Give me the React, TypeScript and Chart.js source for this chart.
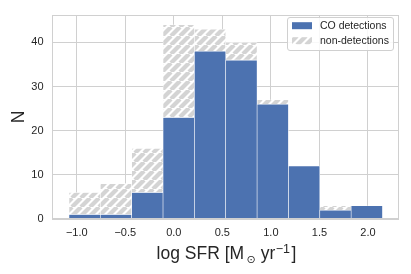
import React, { useEffect, useRef } from 'react';
import { Chart, registerables } from 'chart.js';

Chart.register(...registerables);

// Histogram bin edges (log SFR)
const binEdges = [-1.08, -0.757, -0.434, -0.111, 0.212, 0.535, 0.858, 1.181, 1.504, 1.827, 2.15];
// Counts per bin
const coDetections = [1, 1, 6, 23, 38, 36, 26, 12, 2, 3];
const nonDetections = [5, 7, 10, 21, 5, 4, 1, 0, 1, 0];
// Axis ticks
const xTicks = [-1.0, -0.5, 0.0, 0.5, 1.0, 1.5, 2.0];
const yTicks = [0, 10, 20, 30, 40];
const legendLabels = ['CO detections', 'non-detections'];

const SANS = '"Liberation Sans", Arial, sans-serif';
const TEXT = '#262626';
const GRID = '#d0d0d0';
const BLUE = '#4c72b0';

function makeHatch(): CanvasPattern | string {
  const S = 9;
  const c = document.createElement('canvas');
  c.width = S;
  c.height = S;
  const g = c.getContext('2d');
  if (!g) return '#d6d6d6';
  g.fillStyle = '#ffffff';
  g.fillRect(0, 0, S, S);
  g.strokeStyle = '#d4d4d4';
  g.lineWidth = 4.2;
  for (const x0 of [-S, 0, S]) {
    g.beginPath();
    g.moveTo(x0, S);
    g.lineTo(x0 + S, 0);
    g.stroke();
  }
  const p = g.createPattern(c, 'repeat');
  return p || '#d6d6d6';
}

export default function App() {
  const ref = useRef<HTMLCanvasElement | null>(null);

  useEffect(() => {
    if (!ref.current) return;
    const hatch = makeHatch();
    const centers = coDetections.map((_, i) => (binEdges[i] + binEdges[i + 1]) / 2);

    const decor = {
      id: 'decor',
      afterDatasetsDraw(chart: any) {
        const { ctx, chartArea: a } = chart;
        ctx.save();
        ctx.strokeStyle = GRID;
        ctx.lineWidth = 1;
        const l = Math.round(a.left) + 0.5;
        const t = Math.round(a.top) + 0.5;
        const r = Math.round(a.right) - 0.5;
        const b = Math.round(a.bottom) - 0.5;
        ctx.strokeRect(l, t, r - l, b - t);
        ctx.restore();
      },
      afterDraw(chart: any) {
        const { ctx, chartArea: a } = chart;
        ctx.save();
        // Legend
        const lx = 287.5, ly = 17.5, lw = 106, lh = 33;
        ctx.beginPath();
        (ctx as any).roundRect ? (ctx as any).roundRect(lx, ly, lw, lh, 2.5) : ctx.rect(lx, ly, lw, lh);
        ctx.fillStyle = 'rgba(255,255,255,0.85)';
        ctx.fill();
        ctx.strokeStyle = GRID;
        ctx.lineWidth = 1;
        ctx.stroke();
        const rows = [25.7, 40.7];
        ctx.fillStyle = BLUE;
        ctx.fillRect(292, rows[0] - 3.5, 20, 7);
        ctx.fillStyle = hatch as any;
        ctx.fillRect(292, rows[1] - 3.5, 20, 7);
        ctx.fillStyle = TEXT;
        ctx.font = `10.5px ${SANS}`;
        ctx.textAlign = 'left';
        ctx.textBaseline = 'middle';
        legendLabels.forEach((lab, i) => ctx.fillText(lab, 320, rows[i] + 0.5));

        // Y title
        ctx.save();
        ctx.translate(24, (a.top + a.bottom) / 2);
        ctx.rotate(-Math.PI / 2);
        ctx.font = `17.5px ${SANS}`;
        ctx.textAlign = 'center';
        ctx.textBaseline = 'alphabetic';
        ctx.fillText('N', 0, 0);
        ctx.restore();

        // X title with sub/superscript
        const parts = [
          { t: 'log SFR [M', size: 17.5, dy: 0, fam: SANS, pl: 0, pr: 0 },
          { t: '\u2299', size: 11, dy: 4, fam: '"DejaVu Sans", sans-serif', pl: 2.5, pr: 0 },
          { t: ' yr', size: 17.5, dy: 0, fam: SANS, pl: 0, pr: 0 },
          { t: '\u22121', size: 12.5, dy: -6.5, fam: SANS, pl: 0.5, pr: 0 },
          { t: ']', size: 17.5, dy: 0, fam: SANS, pl: 1.5, pr: 0 },
        ];
        let total = 0;
        const widths = parts.map((p) => {
          ctx.font = `${p.size}px ${p.fam}`;
          const w = ctx.measureText(p.t).width + p.pl + p.pr;
          total += w;
          return w;
        });
        let x = (a.left + a.right) / 2 - total / 2 + 1;
        const base = 259;
        ctx.textAlign = 'left';
        ctx.textBaseline = 'alphabetic';
        ctx.fillStyle = TEXT;
        parts.forEach((p, i) => {
          ctx.font = `${p.size}px ${p.fam}`;
          ctx.fillText(p.t, x + p.pl, base + p.dy);
          x += widths[i];
        });
        ctx.restore();
      },
    };

    const chart = new Chart(ref.current, {
      type: 'bar',
      data: {
        datasets: [
          {
            label: legendLabels[0],
            data: centers.map((c, i) => ({ x: c, y: coDetections[i] })),
            backgroundColor: BLUE,
            borderColor: '#ffffff',
            borderWidth: 0.6,
            borderSkipped: false,
            grouped: false,
            barPercentage: 1,
            categoryPercentage: 1,
          } as any,
          {
            label: legendLabels[1],
            data: centers.map((c, i) => ({ x: c, y: nonDetections[i] })),
            backgroundColor: hatch as any,
            borderColor: '#ffffff',
            borderWidth: 0.6,
            borderSkipped: false,
            grouped: false,
            barPercentage: 1,
            categoryPercentage: 1,
          } as any,
        ],
      },
      options: {
        animation: false,
        responsive: true,
        maintainAspectRatio: false,
        layout: { padding: { top: 12.5, right: 12, left: 0, bottom: 0 } },
        plugins: { legend: { display: false }, tooltip: { enabled: false }, title: { display: false } },
        font: { family: SANS } as any,
        scales: {
          x: {
            type: 'linear',
            min: -1.255,
            max: 2.32,
            offset: false,
            afterBuildTicks: (s: any) => {
              s.ticks = xTicks.map((v) => ({ value: v }));
            },
            afterFit: (s: any) => {
              s.height = 55;
            },
            grid: { color: GRID, lineWidth: 1, drawTicks: false, offset: false },
            border: { display: false },
            ticks: {
              padding: 7,
              color: TEXT,
              font: { size: 11, family: SANS },
              maxRotation: 0,
              callback: (v: any) => Number(v).toFixed(1).replace('-', '\u2212'),
            },
          },
          y: {
            min: 0,
            max: 46.2,
            stacked: true,
            afterBuildTicks: (s: any) => {
              s.ticks = yTicks.map((v) => ({ value: v }));
            },
            afterFit: (s: any) => {
              s.width = 52;
            },
            grid: { color: GRID, lineWidth: 1, drawTicks: false },
            border: { display: false },
            ticks: {
              padding: 8.5,
              color: TEXT,
              font: { size: 11, family: SANS },
              callback: (v: any) => String(v),
            },
          },
        },
      } as any,
      plugins: [decor],
    });
    return () => chart.destroy();
  }, []);

  return (
    <div style={{ position: 'absolute', left: 0, top: 0, width: 411, height: 274 }}>
      <canvas ref={ref} />
    </div>
  );
}
